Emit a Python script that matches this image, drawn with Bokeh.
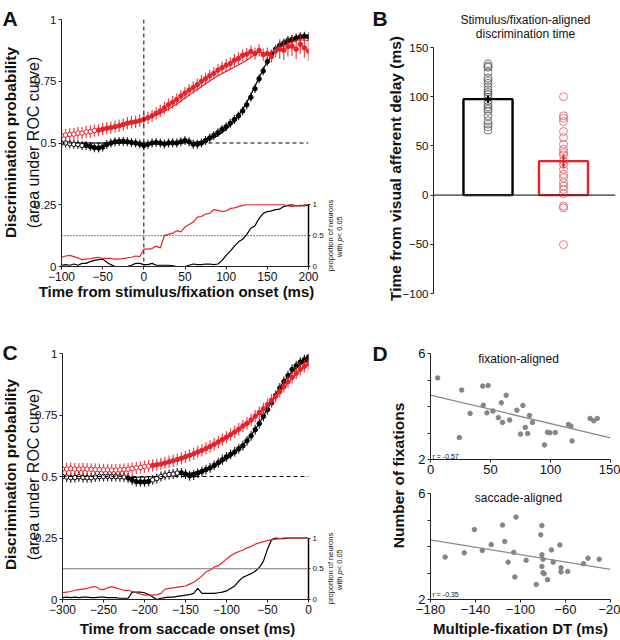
import math
from bokeh.plotting import figure
from bokeh.models import (Range1d, LinearAxis, FixedTicker, Span,
                          NumeralTickFormatter, CustomJSTickFormatter)
from bokeh.embed import file_html
from bokeh.resources import INLINE
from bokeh.core.properties import value

FONT = "Liberation Sans"
RED = "#e8212b"
RED_LIGHT = "#e0505a"
AX = "#222222"
TXT = "#111111"

# ---------------- Panel A data (stimulus/fixation aligned) ----------------
A_t = list(range(-100, 201, 5))
A_red = [.530, .532, .535, .536, .540, .540, .545, .546, .550, .552, .556, .560, .562, .566, .570,
         .575, .580, .584, .586, .590, .596, .602, .610, .620, .630, .642, .655, .665, .676, .690,
         .702, .714, .725, .736, .750, .760, .772, .782, .795, .805, .815, .822, .835, .842, .855,
         .860, .870, .862, .875, .858, .862, .850, .872, .880, .876, .890, .892, .880, .900, .885, .872]
A_red_err = [.025] * 53 + [.04] * 8
A_blk = [.500, .500, .497, .495, .494, .490, .490, .486, .481, .480, .484, .494, .500, .505, .506,
         .507, .505, .502, .500, .496, .490, .495, .500, .502, .500, .496, .500, .501, .500, .505,
         .510, .505, .495, .495, .500, .510, .520, .530, .542, .555, .566, .580, .595, .610, .630,
         .655, .685, .720, .760, .792, .830, .860, .880, .895, .905, .915, .920, .925, .930, .932, .930]
A_blk_err = [.018] * 61
A_tf = list(range(-100, 201, 10))
A_red_fit = [.525, .530, .535, .540, .546, .552, .560, .567, .576, .585, .595, .606, .620, .638, .658,
             .682, .706, .728, .752, .772, .790, .808, .825, .846, .870, .858, .878, .895, .908, .918, .915]
A_blk_fit = [.500, .500, .500, .500, .500, .500, .500, .500, .500, .500, .500, .500, .500, .500, .500,
             .501, .503, .507, .515, .530, .555, .590, .635, .695, .765, .830, .872, .898, .914, .924, .930]
A_prop_red = [.15, .17, .18, .16, .14, .11, .12, .13, .14, .15, .13, .13, .13, .12, .12, .13, .14, .15,
              .17, .16, .28, .28, .29, .33, .30, .50, .52, .54, .58, .56, .64, .68, .72, .80, .81, .85,
              .86, .92, .91, .89, .90, .94, .95, .97, .99, 1.0, 1.0, 1.0, 1.0, 1.0, 1.0, 1.0, 1.0, 1.0,
              1.0, .98, .97, .99, .98, 1.0, 1.0]
A_prop_blk = [.02, .03, .02, .04, .02, .05, .05, .08, .10, .11, .12, .07, .03, 0, 0, 0, 0, .02, .05,
              .05, .03, .03, .05, .02, .02, .02, .02, .01, 0, 0, 0, .02, .04, .03, .03, .04, .04, .03,
              .04, .10, .18, .25, .33, .40, .44, .52, .62, .66, .78, .86, .89, .90, .92, .93, .97, .99,
              1.0, .98, .99, .98, 1.0]

# ---------------- Panel C data (saccade aligned) ----------------
C_t = list(range(-300, 1, 5))
C_red = [.530, .530, .532, .530, .530, .531, .530, .529, .528, .528, .527, .527, .526, .526, .527,
         .528, .530, .532, .535, .537, .540, .542, .545, .548, .551, .555, .560, .564, .569, .574,
         .580, .586, .592, .600, .606, .614, .622, .631, .640, .650, .660, .670, .681, .692, .705,
         .716, .730, .745, .760, .775, .792, .810, .826, .845, .865, .885, .903, .920, .936, .948, .958]
C_red_err = [.025] * 61
C_blk = [.500, .498, .495, .496, .499, .496, .495, .495, .498, .500, .500, .501, .500, .500, .499,
         .498, .494, .485, .479, .478, .478, .480, .486, .492, .500, .505, .508, .510, .514, .515,
         .510, .503, .506, .514, .520, .528, .535, .545, .556, .568, .580, .590, .600, .613, .625,
         .645, .665, .690, .715, .745, .772, .800, .830, .860, .886, .910, .935, .950, .965, .975, .985]
C_blk_err = [.02] * 61
C_tf = list(range(-300, 1, 10))
C_red_fit = [.526, .526, .526, .526, .526, .526, .527, .528, .530, .534, .539, .545, .551, .558, .567,
             .578, .590, .604, .620, .638, .657, .678, .702, .728, .757, .789, .824, .862, .899, .932, .955]
C_blk_fit = [.496, .496, .496, .496, .496, .496, .496, .496, .496, .497, .498, .499, .501, .504, .507,
             .511, .516, .524, .535, .550, .570, .595, .627, .667, .716, .775, .835, .887, .927, .955, .972]
C_prop_red = [.11, .12, .13, .15, .16, .17, .18, .20, .21, .17, .16, .19, .21, .19, .17, .15, .15, .13,
              .11, .09, .07, .07, .07, .08, .10, .17, .18, .19, .20, .21, .22, .25, .28, .33, .38, .45,
              .48, .53, .55, .60, .66, .71, .75, .78, .80, .84, .86, .90, .92, .94, .96, .97, .98, .99,
              1.0, 1.0, 1.0, 1.0, 1.0, 1.0, 1.0]
C_prop_blk = [.03, .04, .03, .04, .03, .04, .04, .03, .03, .04, .04, .03, .03, .03, .02, .02, .02, .12,
              .12, .12, .11, .08, .04, 0, .02, .03, .04, .04, .05, .06, .07, .08, .10, .18, .10, .10,
              .10, .10, .11, .12, .14, .18, .22, .30, .36, .39, .42, .46, .52, .62, .82, .97, 1.0, .99,
              .99, 1.0, 1.0, 1.0, 1.0, 1.0, 1.0]

# ---------------- Panel B data ----------------
B_x = [1, 2]
B_mean = [97.5, 34.5]
B_sem = [4, 7]
B_blk_pts = [133.3, 131, 130, 124.8, 119, 116.3, 113.6, 110.2, 106.8, 104.4, 102, 99.3, 95.9,
             92.5, 89.8, 87.4, 85, 80.6, 75.5, 72.1, 69.4, 66]
B_red_pts = [100, 80.6, 78.2, 74.8, 64.6, 58.5, 51.7, 46.6, 43.2, 40.8, 34.7, 31.3, 26.2, 21.1,
             17.7, 12.6, 9.2, 5.8, 1.4, -11.2, -12.9, -50.3]

# ---------------- Panel D data ----------------
D1_x = [6, 26, 33, 24, 43.5, 48, 44, 47, 52, 56.5, 59, 60, 63, 66, 72, 77, 75, 79, 81, 82.5, 85,
        95, 97.5, 99.5, 104, 115, 117, 118, 133, 136, 139]
D1_y = [5.08, 4.62, 3.74, 2.83, 4.77, 4.79, 4.05, 3.76, 3.83, 3.58, 4.14, 3.40, 4.42, 3.49, 3.86,
        4.04, 2.96, 3.21, 2.98, 3.66, 3.40, 2.55, 3.03, 3.01, 3.02, 3.32, 3.26, 2.70, 3.55, 3.46, 3.55]
D1_fit_x = [0, 150]
D1_fit_y = [4.43, 2.82]
D2_x = [-167, -150, -141, -134, -126, -116, -114, -111, -106, -104, -105, -95, -86, -81, -82, -81,
        -80, -81, -80, -79, -76, -72.5, -71, -65, -64, -64, -58, -44, -40, -30]
D2_y = [3.6, 3.76, 4.64, 3.85, 4.07, 4.81, 4.19, 3.41, 3.78, 5.11, 2.85, 3.48, 2.57, 4.79, 4.44, 3.69,
        3.52, 3.25, 3.01, 2.97, 2.75, 3.87, 3.41, 4.06, 3.2, 3.04, 3.06, 3.35, 3.56, 3.52]
D2_fit_x = [-180, -20]
D2_fit_y = [4.25, 3.14]

# every root is positioned absolutely on the page (left,top encoded in its name)
TEMPLATE = """{% block contents %}
{% for doc in docs %}{% for root in doc.roots %}{% set xy = root.name.split(',') %}
<div style="position:absolute;left:{{ xy[0] }}px;top:{{ xy[1] }}px;"><div id="{{ root.elementid }}" style="display: contents;"></div></div>
{% endfor %}{% endfor %}
{% endblock %}"""


def style_axis(ax, size="11.5px"):
    ax.axis_line_color = AX
    ax.major_tick_line_color = AX
    ax.major_tick_out = 3
    ax.major_tick_in = 0
    ax.minor_tick_line_color = None
    ax.major_label_text_font = FONT
    ax.major_label_text_font_size = size
    ax.major_label_text_color = TXT
    ax.major_label_standoff = 2


def base_fig(x0, y0, w, h, left, right, top, bottom, **kw):
    p = figure(width=w, height=h, min_border_left=left, min_border_right=right, min_border_top=top,
               min_border_bottom=bottom, output_backend="svg", toolbar_location=None, title=None,
               name="%d,%d" % (x0, y0), **kw)
    p.outline_line_color = None
    p.xgrid.grid_line_color = None
    p.ygrid.grid_line_color = None
    p.background_fill_color = None
    p.border_fill_color = None
    return p


def dp_panel(x0, y0, h, top, bottom, left, xr, xticks, t, rm, re, bm, be, tf, rf, bf, rp, bp,
             r_open, b_open, vline, prop_dash, prop_color):
    p = base_fig(x0, y0, 330, h, left, 22, top, bottom, x_range=Range1d(*xr), y_range=Range1d(0, 1))
    style_axis(p.xaxis[0], "12px")
    p.xaxis[0].ticker = FixedTicker(ticks=xticks)
    style_axis(p.yaxis[0])
    p.yaxis[0].ticker = FixedTicker(ticks=[0, 0.25, 0.5, 0.75, 1])
    p.yaxis[0].formatter = NumeralTickFormatter(format="0.[00]")

    p.extra_y_ranges = {"prop": Range1d(0, 4)}
    rax = LinearAxis(y_range_name="prop", ticker=FixedTicker(ticks=[0, 0.5, 1]), bounds=(0, 1),
                     formatter=NumeralTickFormatter(format="0.[0]"))
    style_axis(rax, "8px")
    rax.axis_line_color = "#000000"
    rax.axis_line_width = 1.5
    rax.major_tick_out = 2
    p.add_layout(rax, "right")

    p.add_layout(Span(location=0.5, dimension="width", line_color="black", line_dash="4 3", line_width=1))
    if vline:
        p.add_layout(Span(location=0, dimension="height", line_color="black", line_dash="4 3", line_width=1))
    p.add_layout(Span(location=0.5, dimension="width", y_range_name="prop", line_color=prop_color,
                      line_dash=prop_dash, line_width=1))

    p.line(t, bp, y_range_name="prop", line_color="black", line_width=1.2)
    p.line(t, rp, y_range_name="prop", line_color=RED, line_width=1.2)

    for m, e, col, fits, openf in ((bm, be, "black", bf, b_open), (rm, re, RED, rf, r_open)):
        p.line(tf, fits, line_color=col, line_width=1.2)
        p.segment(x0=t, y0=[a - b for a, b in zip(m, e)], x1=t, y1=[a + b for a, b in zip(m, e)],
                  line_color=col, line_width=1.2, line_alpha=0.85)
        fills = ["white" if openf(tt) else col for tt in t]
        p.scatter(t, m, marker="circle", size=4.5, fill_color=fills, line_color=col, line_width=1)
    return p


# Panel A: frame 61..308 x 19..266 ; Panel C: frame 62..308 x 353..599
pA = dp_panel(0, 0, 312, 19, 46, 61, (-100, 200), [-100, -50, 0, 50, 100, 150, 200],
              A_t, A_red, A_red_err, A_blk, A_blk_err, A_tf, A_red_fit, A_blk_fit, A_prop_red, A_prop_blk,
              lambda tt: tt < -55, lambda tt: tt < -70, True, "1 2", "black")
pC = dp_panel(0, 320, 320, 33, 41, 62, (-300, 0), [-300, -250, -200, -150, -100, -50, 0],
              C_t, C_red, C_red_err, C_blk, C_blk_err, C_tf, C_red_fit, C_blk_fit, C_prop_red, C_prop_blk,
              lambda tt: tt < -190, lambda tt: tt < -220 or (-190 <= tt <= -160), False, "solid", "#777777")

# ---------------- Panel B: frame 433..615 x 47..293 ----------------
pB = base_fig(340, 0, 280, 312, 93, 5, 47, 19, x_range=Range1d(0.278, 2.689), y_range=Range1d(-100, 150),
              x_axis_location=None)
style_axis(pB.yaxis[0])
pB.yaxis[0].ticker = FixedTicker(ticks=[-100, -50, 0, 50, 100, 150])
pB.add_layout(Span(location=0, dimension="width", line_color="#333333", line_width=1.2))
pB.vbar(x=B_x, top=B_mean, bottom=0, width=0.65, fill_color=None, line_color=["black", RED], line_width=2.4)
pB.scatter([B_x[0]] * len(B_blk_pts), B_blk_pts, marker="circle", size=8, fill_color=None,
           line_color="#555555", line_alpha=0.75, line_width=1)
pB.scatter([B_x[1]] * len(B_red_pts), B_red_pts, marker="circle", size=8, fill_color=None,
           line_color=RED_LIGHT, line_alpha=0.75, line_width=1)
pB.segment(x0=B_x, y0=[m - s for m, s in zip(B_mean, B_sem)], x1=B_x, y1=[m + s for m, s in zip(B_mean, B_sem)],
           line_color=["black", RED], line_width=2)
pB.scatter(B_x, B_mean, marker="dash", size=8, line_color=["black", RED], line_width=2)


# ---------------- Panel D: frames 430..610 x 353..459 and 493..599 ----------------
def d_panel(x0, y0, top, bottom, xr, xticks, xs, ys, fx, fy):
    p = base_fig(x0, y0, 280, 160, 90, 10, top, bottom, x_range=Range1d(*xr), y_range=Range1d(2, 6))
    style_axis(p.xaxis[0], "13px")
    p.xaxis[0].ticker = FixedTicker(ticks=xticks)
    p.xaxis[0].formatter = CustomJSTickFormatter(code="return (tick < 0 ? '\u2212' : '') + Math.abs(tick);")
    style_axis(p.yaxis[0], "13px")
    p.yaxis[0].ticker = FixedTicker(ticks=[2, 3, 4, 5, 6])
    p.yaxis[0].formatter = CustomJSTickFormatter(code="return (tick == 2 || tick == 6) ? String(tick) : '';")
    p.line(fx, fy, line_color="#8a8a8a", line_width=1.3)
    p.scatter(xs, ys, marker="circle", size=4.5, fill_color="#858585", line_color="#858585")
    return p


pD1 = d_panel(340, 320, 33, 21, (0, 150), [0, 50, 100, 150], D1_x, D1_y, D1_fit_x, D1_fit_y)
pD2 = d_panel(340, 480, 13, 41, (-180, -20), [-180, -140, -100, -60, -20], D2_x, D2_y, D2_fit_x, D2_fit_y)

# ---------------- text overlay (page pixel coordinates) ----------------
ov = base_fig(0, 0, 620, 640, 0, 0, 0, 0, x_range=Range1d(0, 620), y_range=Range1d(0, 640),
              x_axis_location=None, y_axis_location=None)
UP = math.pi / 2


def ot(x, ytop, text, size, style="normal", angle=0.0, align="center", baseline="middle"):
    ov.text(x=[x], y=[640 - ytop], text=[text], angle=angle, text_align=align, text_baseline=baseline,
            text_font=value(FONT), text_font_size=size, text_font_style=style, text_color=TXT)


for letter, lx, ly in (("A", 2, 18), ("B", 372, 18), ("C", 2, 352), ("D", 372, 353)):
    ot(lx, ly, letter, "21px", "bold", 0.0, "left", "alphabetic")

for cy in (142, 474):
    ot(10, cy, "Discrimination probability", "15.5px", "bold", UP)
    ot(32.5, cy, "(area under ROC curve)", "16px", "normal", UP)

for cy in (235, 568):
    ot(330, cy, "proportion of neurons", "7.5px", "normal", UP)
    ot(339, cy + 21.4, "with ", "7.5px", "normal", UP, "left")
    ot(339, cy + 6.0, "p", "7.5px", "italic", UP, "left")
    ot(339, cy + 1.8, " < 0.05", "7.5px", "normal", UP, "left")

ot(176, 291, "Time from stimulus/fixation onset (ms)", "15px", "bold")
ot(187, 628, "Time from saccade onset (ms)", "15px", "bold")
ot(520, 628, "Multiple-fixation DT (ms)", "15px", "bold")
ot(395, 168, "Time from visual afferent delay (ms)", "15.5px", "bold", UP)
ot(398, 475, "Number of fixations", "15.5px", "bold", UP)
ot(525, 19, "Stimulus/fixation-aligned", "12px")
ot(525, 33, "discrimination time", "12px")
ot(518, 358, "fixation-aligned", "12px")
ot(518, 497, "saccade-aligned", "12px")
ot(432, 456, "r = -0.57", "7px", "normal", 0.0, "left")
ot(432, 594, "r = -0.35", "7px", "normal", 0.0, "left")

p = [pA, pB, pC, pD1, pD2, ov]
open("out.html", "w").write(file_html(p, INLINE, template=TEMPLATE))
